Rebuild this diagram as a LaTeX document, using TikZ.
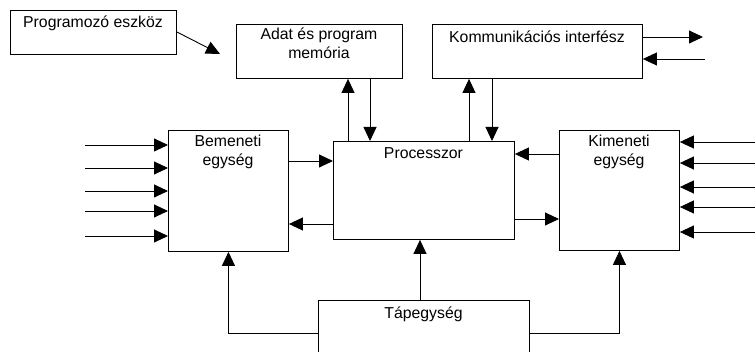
\documentclass[tikz,border=0pt]{standalone}
\usepackage{fontspec}
\setmainfont{Liberation Sans}
\usetikzlibrary{arrows.meta}
\begin{document}
\begin{tikzpicture}[x=1pt,y=-1pt,
  box/.style={draw=black,line width=0.9pt,rectangle,inner sep=0pt,anchor=north west},
  lbl/.style={anchor=base,inner sep=0pt,font=\fontsize{15.8}{19}\selectfont,align=center},
  arr/.style={draw=black,line width=0.9pt,-{Triangle[length=14pt,width=13pt]}},
  ln/.style={draw=black,line width=0.9pt}]
\useasboundingbox (0,0) rectangle (755,352);
\clip (0,0) rectangle (755,352);
% boxes
\node[box,minimum width=166pt,minimum height=44pt] (prog) at (10,10) {};
\node[box,minimum width=166pt,minimum height=54pt] (mem) at (236,24) {};
\node[box,minimum width=210pt,minimum height=54pt] (comm) at (432,24) {};
\node[box,minimum width=120pt,minimum height=121pt] (bem) at (168,130) {};
\node[box,minimum width=181pt,minimum height=98pt] (proc) at (333,141) {};
\node[box,minimum width=120pt,minimum height=120pt] (kim) at (559,130) {};
\node[box,minimum width=211pt,minimum height=80pt] (tap) at (318,300) {};
% labels
\node[lbl] (progt) at (93,28) {Programozó eszköz};
\node[lbl] (memt1) at (319,40) {Adat és program};
\node[lbl] (memt2) at (319,59) {memória};
\node[lbl] (commt) at (537,43) {Kommunikációs interfész};
\node[lbl] (bemt1) at (228,147) {Bemeneti};
\node[lbl] (bemt2) at (228,166) {egység};
\node[lbl] (proct) at (423.5,159) {Processzor};
\node[lbl] (kimt1) at (619,147) {Kimeneti};
\node[lbl] (kimt2) at (619,166) {egység};
\node[lbl] (tapt) at (423.5,319) {Tápegység};
% free ends
\coordinate (progtip) at (220,54);
\coordinate (commout) at (703,37);
\coordinate (commin) at (705,59);
\foreach \y [count=\i] in {145,168,191,211,236} {\coordinate (in\i) at (85,\y);}
\foreach \y [count=\i] in {142,163,187,207,232} {\coordinate (out\i) at (755,\y);}
% connectors
\draw[arr] (prog.east |- 0,32) -- (progtip);
\draw[arr] (proc.north -| 348,0) -- (mem.south -| 348,0);
\draw[arr] (mem.south -| 370,0) -- (proc.north -| 370,0);
\draw[arr] (proc.north -| 469,0) -- (comm.south -| 469,0);
\draw[arr] (comm.south -| 492,0) -- (proc.north -| 492,0);
\draw[arr] (comm.east |- commout) -- (commout);
\draw[arr] (commin) -- (comm.east |- commin);
\foreach \i in {1,...,5} {\draw[arr] (in\i) -- (bem.west |- in\i);}
\foreach \i in {1,...,5} {\draw[arr] (out\i) -- (kim.east |- out\i);}
\draw[arr] (bem.east |- 0,161) -- (proc.west |- 0,161);
\draw[arr] (proc.west |- 0,224) -- (bem.east |- 0,224);
\draw[arr] (kim.west |- 0,154) -- (proc.east |- 0,154);
\draw[arr] (proc.east |- 0,219) -- (kim.west |- 0,219);
\draw[arr] (tap.west |- 0,333) -| (bem.south);
\draw[arr] (tap.east |- 0,333) -| (kim.south);
\draw[arr] (tap.north -| 420,0) -- (proc.south -| 420,0);
\end{tikzpicture}
\end{document}
